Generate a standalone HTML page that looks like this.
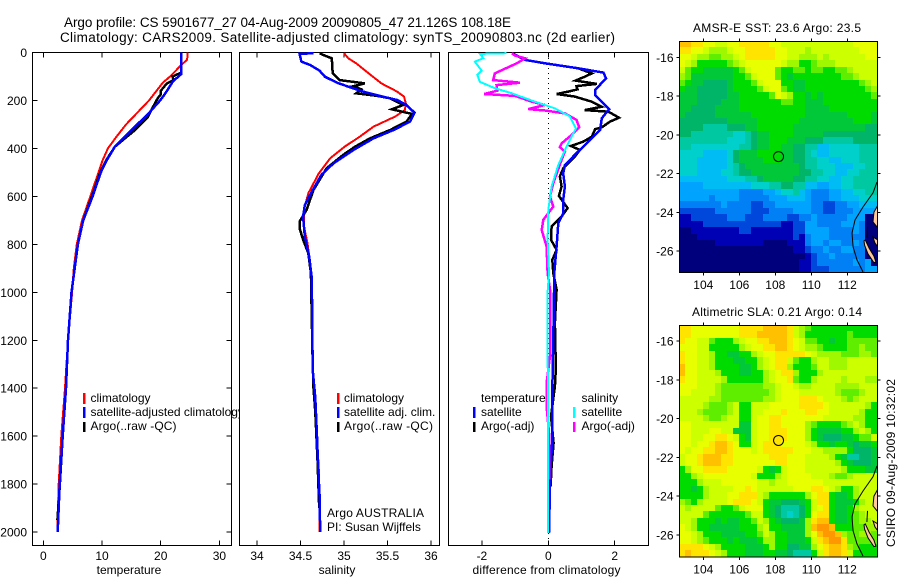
<!DOCTYPE html>
<html>
<head>
<meta charset="utf-8">
<title>Argo profile</title>
<style>
html,body{margin:0;padding:0;background:#fff;}
svg{display:block;}
text{font-family:"Liberation Sans",sans-serif;font-size:12px;fill:#000;}
</style>
</head>
<body>
<svg id="fig" xmlns="http://www.w3.org/2000/svg" width="900" height="580" viewBox="0 0 900 580">
  <defs>
    <clipPath id="clip-legend"><rect x="0" y="0" width="239" height="580"/></clipPath>
    <clipPath id="clip-map1"><rect x="679" y="41" width="198.5" height="231"/></clipPath>
    <clipPath id="clip-map2"><rect x="679" y="325" width="198.5" height="232"/></clipPath>
  </defs>
  <rect x="0" y="0" width="900" height="580" fill="#fff"/>
  <text x="64" y="27" textLength="447" lengthAdjust="spacing" style="font-size:13.5px">Argo profile: CS 5901677_27 04-Aug-2009 20090805_47 21.126S 108.18E</text>
  <text x="60" y="42" textLength="555" lengthAdjust="spacing" style="font-size:13.5px">Climatology: CARS2009. Satellite-adjusted climatology: synTS_20090803.nc (2d earlier)</text>
  <g id="plots"></g>
  <g id="legends">
    <g clip-path="url(#clip-legend)">
      <rect x="83" y="393" width="2.5" height="11" fill="#f00"/>
      <rect x="83" y="407" width="2.5" height="11" fill="#00f"/>
      <rect x="83" y="422" width="2.5" height="10" fill="#000"/>
      <text x="90.5" y="402">climatology</text>
      <text x="90.5" y="416">satellite-adjusted climatology</text>
      <text x="90.5" y="430" textLength="86" lengthAdjust="spacing">Argo(..raw -QC)</text>
    </g>
    <g>
      <rect x="337" y="393" width="2.5" height="11" fill="#f00"/>
      <rect x="337" y="407" width="2.5" height="11" fill="#00f"/>
      <rect x="337" y="422" width="2.5" height="10" fill="#000"/>
      <text x="344" y="402">climatology</text>
      <text x="344" y="416">satellite adj. clim.</text>
      <text x="344" y="430" textLength="89" lengthAdjust="spacing">Argo(..raw -QC)</text>
      <text x="327" y="517" textLength="97" lengthAdjust="spacing">Argo AUSTRALIA</text>
      <text x="327" y="531">PI: Susan Wijffels</text>
    </g>
    <g>
      <text x="481" y="402">temperature</text>
      <rect x="473" y="407" width="2.5" height="11" fill="#00f"/>
      <rect x="473" y="422" width="2.5" height="10" fill="#000"/>
      <text x="481" y="416">satellite</text>
      <text x="481" y="430">Argo(-adj)</text>
      <text x="581.5" y="402">salinity</text>
      <rect x="573" y="407" width="2.5" height="11" fill="#0ff"/>
      <rect x="573" y="422" width="2.5" height="10" fill="#f0f"/>
      <text x="581.5" y="416">satellite</text>
      <text x="581.5" y="430">Argo(-adj)</text>
    </g>
  </g>
  <text x="129" y="574" text-anchor="middle">temperature</text>
  <text x="337" y="574" text-anchor="middle">salinity</text>
  <text x="546.5" y="574" text-anchor="middle" textLength="148" lengthAdjust="spacing">difference from climatology</text>
  <text x="777" y="32" text-anchor="middle" textLength="168" lengthAdjust="spacing">AMSR-E SST: 23.6 Argo: 23.5</text>
  <text x="777" y="316" text-anchor="middle" textLength="170" lengthAdjust="spacing">Altimetric SLA: 0.21 Argo: 0.14</text>
  <text transform="translate(895,547) rotate(-90)" textLength="168" lengthAdjust="spacing">CSIRO 09-Aug-2009 10:32:02</text>
</svg>
<script>
// ---- depth-axis and value-axis ticks ----
const depthTicks = [0,200,400,600,800,1000,1200,1400,1600,1800,2000];
const tempTicks = [0,10,20,30];
const salTicks = [34,34.5,35,35.5,36];
const diffTicks = [-2,0,2];
const lonTicks = [104,106,108,110,112];
const latTicks = [16,18,20,22,24,26];

// ---- temperature panel ----
const tempClimDepth = [0,30,50,100,125,200,300,350,400,450,500,600,700,800,900,1000,1200,1400,1600,1800,2000];
const tempClimValue = [24.6,24.5,23.6,21.6,20.4,18.0,14.1,12.5,11.0,10.1,9.4,8.0,6.6,5.7,5.2,4.9,4.2,3.7,3.07,2.62,2.4];
const tempSatDepth = [0,90,120,170,200,255,317,393,450,500,600,700,800,1000,1200,1400,1600,1800,2000];
const tempSatValue = [23.5,23.5,22.1,20.8,19.9,17.9,15.3,12.2,10.8,9.8,8.4,6.8,5.9,4.8,4.2,3.87,3.3,2.8,2.45];
const tempArgoDepth = [85,100,115,130,160,175,190,240,270,320,393,450,500,600,700,800,1000,1200,1400,1600,1800,1950];
const tempArgoValue = [23.4,22.0,22.2,21.0,20.0,20.0,19.5,18.4,17.8,15.8,12.2,10.7,9.7,8.3,6.8,5.9,4.8,4.2,3.87,3.3,2.82,2.4];

// ---- salinity panel ----
const salClimDepth = [3,24,45,80,129,163,184,212,240,267,309,351,392,441,504,587,656,726,795,878,941,1323,1440,1600,1740,2000];
const salClimValue = [35.0,35.05,35.14,35.26,35.43,35.61,35.69,35.71,35.70,35.59,35.34,35.18,35.01,34.84,34.71,34.59,34.54,34.54,34.58,34.61,34.63,34.64,34.67,34.69,34.71,34.72];
const salSatDepth = [3,6,38,52,76,101,126,145,163,181,198,219,251,288,323,358,406,462,510,580,636,684,767,851,941,1323,1440,1600,1740,1850,2000];
const salSatValue = [34.65,34.49,34.51,34.61,34.72,34.78,34.92,35.07,35.22,35.41,35.61,35.72,35.81,35.76,35.57,35.34,35.11,34.88,34.74,34.63,34.55,34.53,34.55,34.60,34.63,34.64,34.67,34.69,34.705,34.72,34.727];
const salArgoDepth = [3,10,24,87,115,129,140,154,170,181,191,219,237,256,288,323,358,392,427,483,573,656,705,733,781,837,920,1300,1400,1500,1700,1900];
const salArgoValue = [34.72,34.76,34.86,34.87,34.95,35.24,35.11,35.20,35.14,35.38,35.53,35.68,35.55,35.78,35.72,35.53,35.30,35.13,34.99,34.80,34.65,34.57,34.49,34.49,34.53,34.59,34.62,34.64,34.65,34.67,34.695,34.715];

// ---- difference panel ----
const diffTempSatDepth = [6,31,45,66,84,108,156,177,212,237,274,323,358,413,469,504,559,615,670,712,809,920,1198,1406,1614,1753,2003];
const diffTempSatValue = [-1.05,-0.70,-0.10,0.90,1.66,1.74,1.41,1.41,1.66,1.83,1.61,1.56,1.31,0.90,0.50,0.45,0.50,0.45,0.45,0.30,0.25,0.18,0.15,0.12,0.12,0.06,0.02];
const diffTempArgoDepth = [45,66,87,101,117,131,140,154,163,173,184,205,226,240,247,272,288,312,320,351,372,390,406,434,483,517,559,598,649,684,726,781,823,865,920,989,1128,1267,1337,1392,1517,1628,1725,1809];
const diffTempArgoValue = [-0.10,0.90,1.31,1.10,0.82,1.46,0.85,0.88,0.60,0.25,0.80,1.31,1.61,1.10,1.81,2.13,1.86,1.61,1.41,1.31,1.05,0.68,0.95,0.80,0.45,0.35,0.40,0.32,0.58,0.40,0.10,0.08,0.25,0.12,0.15,0.25,0.20,0.22,0.22,0.20,0.08,0.16,0.10,0.07];
const diffSalSatDepth = [3,6,24,38,76,94,122,149,170,205,233,267,316,392,469,559,656,781,920,1017,1475,2003];
const diffSalSatValue = [-1.26,-2.06,-1.96,-2.21,-2.01,-2.14,-2.06,-1.61,-1.10,-0.40,0.20,0.65,0.83,0.55,0.30,0.10,0,-0.02,0.02,-0.03,-0.01,-0.01];
const diffSalArgoDepth = [3,13,24,45,87,115,126,136,159,173,181,205,219,236,242,254,281,312,344,379,395,413,448,545,601,642,698,740,809,920,989,1267,1378,1475,1600,1781];
const diffSalArgoValue = [-1.10,-1.00,-0.70,-0.95,-1.61,-1.66,-0.85,-1.56,-1.53,-1.93,-1.00,-0.50,-0.10,-0.60,-0.10,0.50,0.85,0.93,0.70,0.40,0.35,0.50,0.40,0.15,0.05,0.15,-0.15,-0.20,-0.05,-0.02,0.05,0.05,-0.05,-0.05,0.03,0.03];

// ---- map fields: one base-18 colour level per cell, north to south ----
const sstRows = [
"ggffeeddeefffffeeddddddddddddeeee",
"ffeedcccdeefffffeedddcddddddddeee",
"eedccbbccdefffffeeddcccdcddddddee",
"edcaaaaabcdeeeeeedccaabcccddddddd",
"dbaa99999abdeeeebaabbabbaabbcdddd",
"cb9999999aabdeeeba9aaaaaaaabbcddd",
"ba9988889aaabdeeeaa99aaaaaaaaabcd",
"a99888889aaaabdeeba99aaaaaaaaaabc",
"9998888899aaaaabedcaa9a9aaaaaaaab",
"9998888999aaaaaaabbaa999aaaaaaaaa",
"9988889999aaaaaaaaaaa9999aaaaaaaa",
"988888999999aaaaaaaaa9999999aaaa9",
"8888888899999aaaaaaa999999999aaa9",
"8888777788899aaaaaa99999999999988",
"887777777667899aaaa99999888888888",
"777777776667899aaa999888777778888",
"776666666677899aa9988775566666777",
"6666555568999aaaa9988765566666777",
"66655555689999aaa9988776655666777",
"666555556789999999998776665556677",
"666555566788999999998877665566777",
"555555556667789999988776655667777",
"444455555555666778877554455667777",
"444444444433334456675433344556677",
"444443444433333444555433344555666",
"333333343333223344444433223344555",
"222222333333222333344433223334444",
"112222223332223333223343333344400",
"111122222222222221122443333444300",
"001111111122111111122444433334300",
"000111111111111111121344433333300",
"000000111111110000111344344334300",
"000000000000000000011233433443300",
"000000000000000000000123343333300",
"000000000000000000001123333334340",
"000000000000000000001122233333344"
];
const slaRows = [
"ffeeeeeeeeffffggggfdcbaaaaaaaaaaa",
"ffeeeeeeeefffgggggfdcaaaaaaabaaaa",
"feeddbaaacdeeffgggfedbbaa9aabbbbb",
"eeeddaaaaacdeeffggfedccbaaaabbcbb",
"feeddcaa99aacdeefffffedccccbbbccb",
"feeddcaaa99aacdeffdbaacddcccddddd",
"geeddcaaaa99acdeffcaaabddcccddddd",
"geedddcaaa99aacdeffcaaacddddddddd",
"feeddddcaaaaaacdeefbaacddddcdddcc",
"eeedddcbbbbbbbccdeedccddddccccddd",
"eeddddcbbbbbbbbcdeeeddddddcbbbcdd",
"dddddccbbbbbbbccdeeefffedddcbcddd",
"ddddcbbbcdaadddeeeeeffffeddddddca",
"dddcbbbbcdaaddeeefeeeffeedddddcaa",
"ddddcbbcddaadeeffeeeeeeedddddccaa",
"eedddddddd99deeffeeeecbaaaabcdcaa",
"eedddeedd999deefffeeeca9999aacdca",
"eeddeeffeda9deefffeeeca988899abbd",
"eedeefggfeaadefffeeeedcaa9aa9899a",
"edeeffggfeeedefffffeeeddcccca8889",
"deefgggffeeeeeefffeeeddddca977889",
"deefgggffeeeeeeeffeeedddddca98889",
"aceeffffeeeeeda9adeeeddddddcaaa99",
"aacdeeeeeeeedaaacdeeeedddcbbcdddd",
"aaacdddeeeeeeddcddeeeeeeddddddddd",
"aa9acddddeefeddddddeeeffedcaacddd",
"aaaacdddeefffdcaaaaaaceffa99acddd",
"cbacddddefffeda998889adffa999acdd",
"dcddddbaabdeeea987778adefa99acddd",
"ddddbaaaaaabdda987678aeffa99abcdd",
"ddcaaa9a99aabdca98889cfgga99abccd",
"edcaa99999aaacdaa9999cghhgaaabbcc",
"eedcaaa9999aabdcaa999ceghhgcbbccb",
"eedcbaaa9a999accaa999adfghhfbbbbb",
"ffffedcaaaa999acaa8899cefggfcbaaa",
"fgfffedcaaa999aa998777adfggfdaaaa"
];
const colorLevels = ["#00007c","#0000b4","#0048dc","#0080f4","#00a4ff","#00bcf4","#00d0cc","#00c8a0","#00b468","#00c838","#00dc00","#60ee00","#a0f800","#ccff00","#e8ff00","#ffe400","#ffc000","#ff9800"];

// ---- map geography (degrees east / degrees south) ----
const contourLon = [113.65,113.43,112.87,112.43,112.26,112.32,112.54,112.87];
const contourLat = [22.44,23.0,23.73,24.4,25.07,25.79,26.46,27.08];
const mainlandLon = [113.7,113.48,113.43,113.7];
const mainlandLat = [23.63,24.0,24.5,24.81];
const islandALon = [112.93,113.0,113.21,113.48,113.59,113.48,113.15,112.96];
const islandALat = [25.48,25.43,25.85,26.26,26.57,26.6,26.15,25.7];
const islandBLon = [113.43,113.7,113.7,113.54];
const islandBLat = [25.28,25.43,25.79,25.59];
const sliverLon = [113.12,113.09];
const sliverLat = [24.76,25.33];
const floatLon = 108.18;
const floatLat = 21.126;

// ---- axis functions ----
const NS = "http://www.w3.org/2000/svg";
const plots = document.getElementById("plots");
const depthY = d => 52.5 + d * 0.2398;
const tempX = v => 43.3 + v * 5.87;
const salX = v => 257 + (v - 34) * 87;
const diffX = v => 548.3 + v * 33.2;
const lonX = v => 703.3 + (v - 104) * 18;
const sstY = v => 57.3 + (v - 16) * 19.37;
const slaY = v => 341 + (v - 16) * 19.4;

function addLine(x1, y1, x2, y2, name) {
  const el = document.createElementNS(NS, "line");
  
  
  el.setAttribute("x1", x1);
  el.setAttribute("y1", y1);
  el.setAttribute("x2", x2);
  el.setAttribute("y2", y2);
  el.setAttribute("stroke", "#000");
  el.setAttribute("shape-rendering", "crispEdges");
  plots.appendChild(el);
}
function addLabel(x, y, str, anchor, name) {
  const el = document.createElementNS(NS, "text");
  
  
  el.setAttribute("x", x);
  el.setAttribute("y", y);
  el.setAttribute("text-anchor", anchor);
  el.textContent = str;
  plots.appendChild(el);
}
function addFrame(x, y, w, h, name) {
  const el = document.createElementNS(NS, "rect");
  
  
  el.setAttribute("x", x);
  el.setAttribute("y", y);
  el.setAttribute("width", w);
  el.setAttribute("height", h);
  el.setAttribute("fill", "none");
  el.setAttribute("stroke", "#000");
  el.setAttribute("shape-rendering", "crispEdges");
  plots.appendChild(el);
}
function addProfile(xs, ds, sx, color, width, name) {
  const el = document.createElementNS(NS, "polyline");
  
  
  el.setAttribute("points", xs.map((v, i) => sx(v).toFixed(1) + "," + depthY(ds[i]).toFixed(1)).join(" "));
  el.setAttribute("fill", "none");
  el.setAttribute("stroke", color);
  el.setAttribute("stroke-width", width);
  el.setAttribute("shape-rendering", "crispEdges");
  plots.appendChild(el);
}
function addValueTicks(ticks, sx) {
  ticks.forEach(t => {
    addLine(sx(t), 545.5, sx(t), 540.5, "x-axis-tick");
    addLine(sx(t), 52.5, sx(t), 57.5, "x-axis-tick");
    addLabel(sx(t), 560, String(t), "middle", "x-tick-label");
  });
}

// temperature panel
addFrame(32.5, 52.5, 199, 493, "temperature-axes-frame");
addValueTicks(tempTicks, tempX);
depthTicks.forEach(d => {
  addLine(32.5, depthY(d), 37.5, depthY(d), "depth-axis-tick");
  addLine(231.5, depthY(d), 226.5, depthY(d), "depth-axis-tick");
  addLabel(27, depthY(d) + 4.5, String(d), "end", "depth-tick-label");
});
addProfile(tempClimValue, tempClimDepth, tempX, "#f00", 2, "temperature-climatology-line");
addProfile(tempArgoValue, tempArgoDepth, tempX, "#000", 2.5, "temperature-argo-line");
addProfile(tempSatValue, tempSatDepth, tempX, "#00f", 2.5, "temperature-satellite-line");

// salinity panel
addFrame(239.5, 52.5, 200, 493, "salinity-axes-frame");
addValueTicks(salTicks, salX);
addProfile(salClimValue, salClimDepth, salX, "#f00", 2, "salinity-climatology-line");
addProfile(salArgoValue, salArgoDepth, salX, "#000", 2.5, "salinity-argo-line");
addProfile(salSatValue, salSatDepth, salX, "#00f", 2.5, "salinity-satellite-line");

// difference panel
addFrame(448.5, 52.5, 200, 493, "difference-axes-frame");
addValueTicks(diffTicks, diffX);
const zeroLine = document.createElementNS(NS, "line");


zeroLine.setAttribute("x1", diffX(0));
zeroLine.setAttribute("x2", diffX(0));
zeroLine.setAttribute("y1", 53);
zeroLine.setAttribute("y2", 545);
zeroLine.setAttribute("stroke", "#000");
zeroLine.setAttribute("stroke-dasharray", "1 4");
zeroLine.setAttribute("shape-rendering", "crispEdges");
plots.appendChild(zeroLine);
addProfile(diffTempArgoValue, diffTempArgoDepth, diffX, "#000", 2.5, "difference-temperature-argo-line");
addProfile(diffTempSatValue, diffTempSatDepth, diffX, "#00f", 2.5, "difference-temperature-satellite-line");
addProfile(diffSalArgoValue, diffSalArgoDepth, diffX, "#f0f", 2.5, "difference-salinity-argo-line");
addProfile(diffSalSatValue, diffSalSatDepth, diffX, "#0ff", 2, "difference-salinity-satellite-line");

// maps
function drawMap(rows, top, bottom, sy, clipId, prefix) {
  const left = 679, right = 877.5;
  const layer = document.createElementNS(NS, "g");
  
  
  layer.setAttribute("clip-path", "url(#" + clipId + ")");
  plots.appendChild(layer);
  const cw = (right - left) / 33;
  const ch = (bottom - top) / rows.length;
  rows.forEach((row, r) => {
    for (let c = 0; c < 33; c++) {
      const level = parseInt(row[c] || "0", 18);
      const x0 = Math.round(left + c * cw), x1 = Math.round(left + (c + 1) * cw);
      const y0 = Math.round(top + r * ch), y1 = Math.round(top + (r + 1) * ch);
      const el = document.createElementNS(NS, "rect");
      
      
      el.setAttribute("x", x0);
      el.setAttribute("y", y0);
      el.setAttribute("width", x1 - x0);
      el.setAttribute("height", y1 - y0);
      el.setAttribute("fill", colorLevels[level]);
      el.setAttribute("shape-rendering", "crispEdges");
      layer.appendChild(el);
    }
  });
  const shape = (tag, lons, lats, fill, name) => {
    const el = document.createElementNS(NS, tag);
    
    
    el.setAttribute("points", lons.map((v, i) => lonX(v).toFixed(1) + "," + sy(lats[i]).toFixed(1)).join(" "));
    el.setAttribute("fill", fill);
    el.setAttribute("stroke", "#000");
    el.setAttribute("stroke-width", "1");
    layer.appendChild(el);
  };
  shape("polygon", mainlandLon, mainlandLat, "#ffc89a", "mainland");
  shape("polygon", islandALon, islandALat, "#ffc89a", "island");
  shape("polygon", islandBLon, islandBLat, "#ffc89a", "island");
  shape("polyline", sliverLon, sliverLat, "none", "island-sliver");
  shape("polyline", contourLon, contourLat, "none", "bathymetry-contour");
  const dot = document.createElementNS(NS, "circle");
  
  
  dot.setAttribute("cx", lonX(floatLon));
  dot.setAttribute("cy", sy(floatLat));
  dot.setAttribute("r", 5);
  dot.setAttribute("fill", "none");
  dot.setAttribute("stroke", "#000");
  layer.appendChild(dot);
  addFrame(679.5, top + 0.5, 198, bottom - top, prefix + "-map-frame");
  lonTicks.forEach(t => {
    addLine(lonX(t), bottom + 0.5, lonX(t), bottom + 3.5, "longitude-tick");
    addLine(lonX(t), top + 0.5, lonX(t), top - 2.5, "longitude-tick");
    addLabel(lonX(t), bottom + 17, String(t), "middle", "longitude-tick-label");
  });
  latTicks.forEach(t => {
    addLine(679.5, sy(t), 676.5, sy(t), "latitude-tick");
    addLine(877.5, sy(t), 880.5, sy(t), "latitude-tick");
    addLabel(673.5, sy(t) + 4.5, "-" + t, "end", "latitude-tick-label");
  });
}
drawMap(sstRows, 41, 272, sstY, "clip-map1", "sst");
drawMap(slaRows, 325, 556.5, slaY, "clip-map2", "sla");
</script>
</body>
</html>
